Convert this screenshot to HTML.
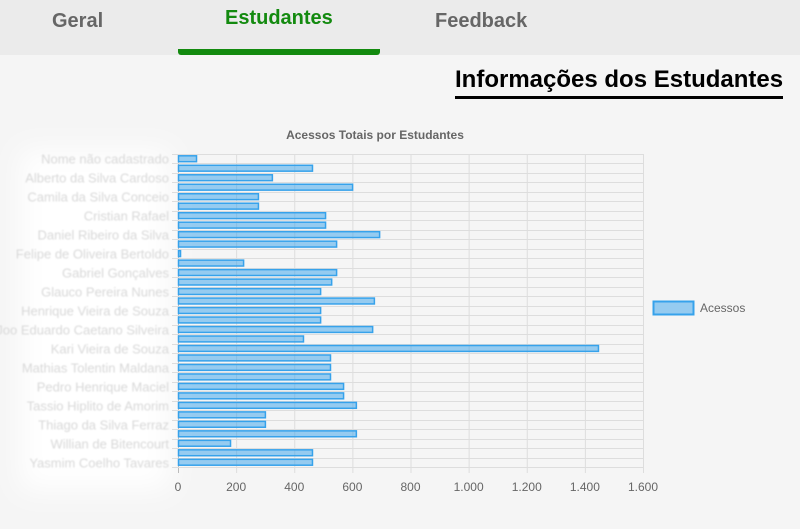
<!DOCTYPE html>
<html><head><meta charset="utf-8">
<style>
body{margin:0;width:800px;height:529px;background:#f5f5f5;font-family:"Liberation Sans",sans-serif;overflow:hidden;position:relative}
.hdr{position:absolute;left:0;top:0;width:800px;height:55px;background:#ebebeb}
.tab{position:absolute;top:10px;font-size:20px;font-weight:bold;color:#666;font-family:"Liberation Sans Narrow","Liberation Sans",sans-serif}
.ul{position:absolute;left:178px;top:49px;width:202px;height:6px;background:#138a0f;border-radius:0 0 3px 3px}
.title{position:absolute;left:455px;top:66px;width:328px;font-size:24px;font-weight:bold;color:#000;font-family:"Liberation Sans Narrow","Liberation Sans",sans-serif;border-bottom:3px solid #000;padding-bottom:2px;white-space:nowrap}
</style></head><body>
<div class="hdr"></div>
<div class="tab" style="left:52px">Geral</div>
<div class="tab" style="left:225px;top:7px;color:#138a0f">Estudantes</div>
<div class="tab" style="left:435px">Feedback</div>
<div class="ul"></div>
<div class="title">Informações dos Estudantes</div>
<svg id="c" width="800" height="529" style="position:absolute;left:0;top:0">
<defs><filter id="bl" x="-20%" y="-20%" width="140%" height="140%"><feGaussianBlur stdDeviation="14"/></filter>
<filter id="tb"><feGaussianBlur stdDeviation="0.8"/></filter></defs>
<rect x="20" y="150" width="150" height="340" fill="#fff" filter="url(#bl)"/>
<text x="375" y="139" text-anchor="middle" font-size="12" font-weight="bold" fill="#666">Acessos Totais por Estudantes</text>
<g id="g"></g>
<rect x="653.5" y="301.5" width="40" height="13" fill="rgba(54,162,235,0.5)" stroke="#36a2eb" stroke-width="2"/>
<text x="700" y="312" font-size="12" fill="#666">Acessos</text>
</svg>
<script>
const categories=["Nome não cadastrado","","Alberto da Silva Cardoso","","Camila da Silva Conceio","","Cristian Rafael","","Daniel Ribeiro da Silva","","Felipe de Oliveira Bertoldo","","Gabriel Gonçalves","","Glauco Pereira Nunes","","Henrique Vieira de Souza","","Joo Eduardo Caetano Silveira","","Kari Vieira de Souza","","Mathias Tolentin Maldana","","Pedro Henrique Maciel","","Tassio Hiplito de Amorim","","Thiago da Silva Ferraz","","Willian de Bitencourt","","Yasmim Coelho Tavares"];
const values=[62,461,323,599,275,275,506,506,692,544,7,224,544,527,489,674,489,489,668,430,1445,523,523,523,568,568,612,299,299,612,179,461,461];
const ticks=[0,200,400,600,800,1000,1200,1400,1600];
const tickLabels=["0","200","400","600","800","1.000","1.200","1.400","1.600"];
const X0=178,X1=643,Y0=154,Y1=467,MAX=1600;
const xs=v=>X0+(X1-X0)*v/MAX;
const band=(Y1-Y0)/values.length;
const ys=i=>Y0+band*i;
const g=document.getElementById('g');const NS="http://www.w3.org/2000/svg";
function mk(t,a){const e=document.createElementNS(NS,t);for(const k in a)e.setAttribute(k,a[k]);g.appendChild(e);return e;}
ticks.forEach((t,i)=>{
 const l=mk('line',{x1:xs(t)+.5,x2:xs(t)+.5,y1:Y0,y2:Y1+6,stroke:i==0?'#bbb':'#ddd'});
 
 
 const tx=mk('text',{x:xs(t),y:Y1+24,'text-anchor':'middle','font-size':12,fill:'#666'});tx.textContent=tickLabels[i];
 
 
});
for(let i=0;i<=values.length;i++){
 const l=mk('line',{x1:X0-6,x2:X1,y1:Math.round(ys(i))+.5,y2:Math.round(ys(i))+.5,stroke:'#ddd'});
 
 
}
values.forEach((v,i)=>{
 const r=mk('rect',{x:X0+.5,y:ys(i)+1.8,width:Math.max(1,xs(v)-X0),height:band-3.6,fill:'rgba(54,162,235,0.5)',stroke:'#36a2eb','stroke-width':1.5});
 
 
 if(categories[i]){
  const t=mk('text',{x:X0-9,y:ys(i)+band/2+5,'text-anchor':'end','font-size':13,fill:'#d8d8d8',filter:'url(#tb)'});
  t.textContent=categories[i];
  
  
 }
});
</script>
</body></html>
